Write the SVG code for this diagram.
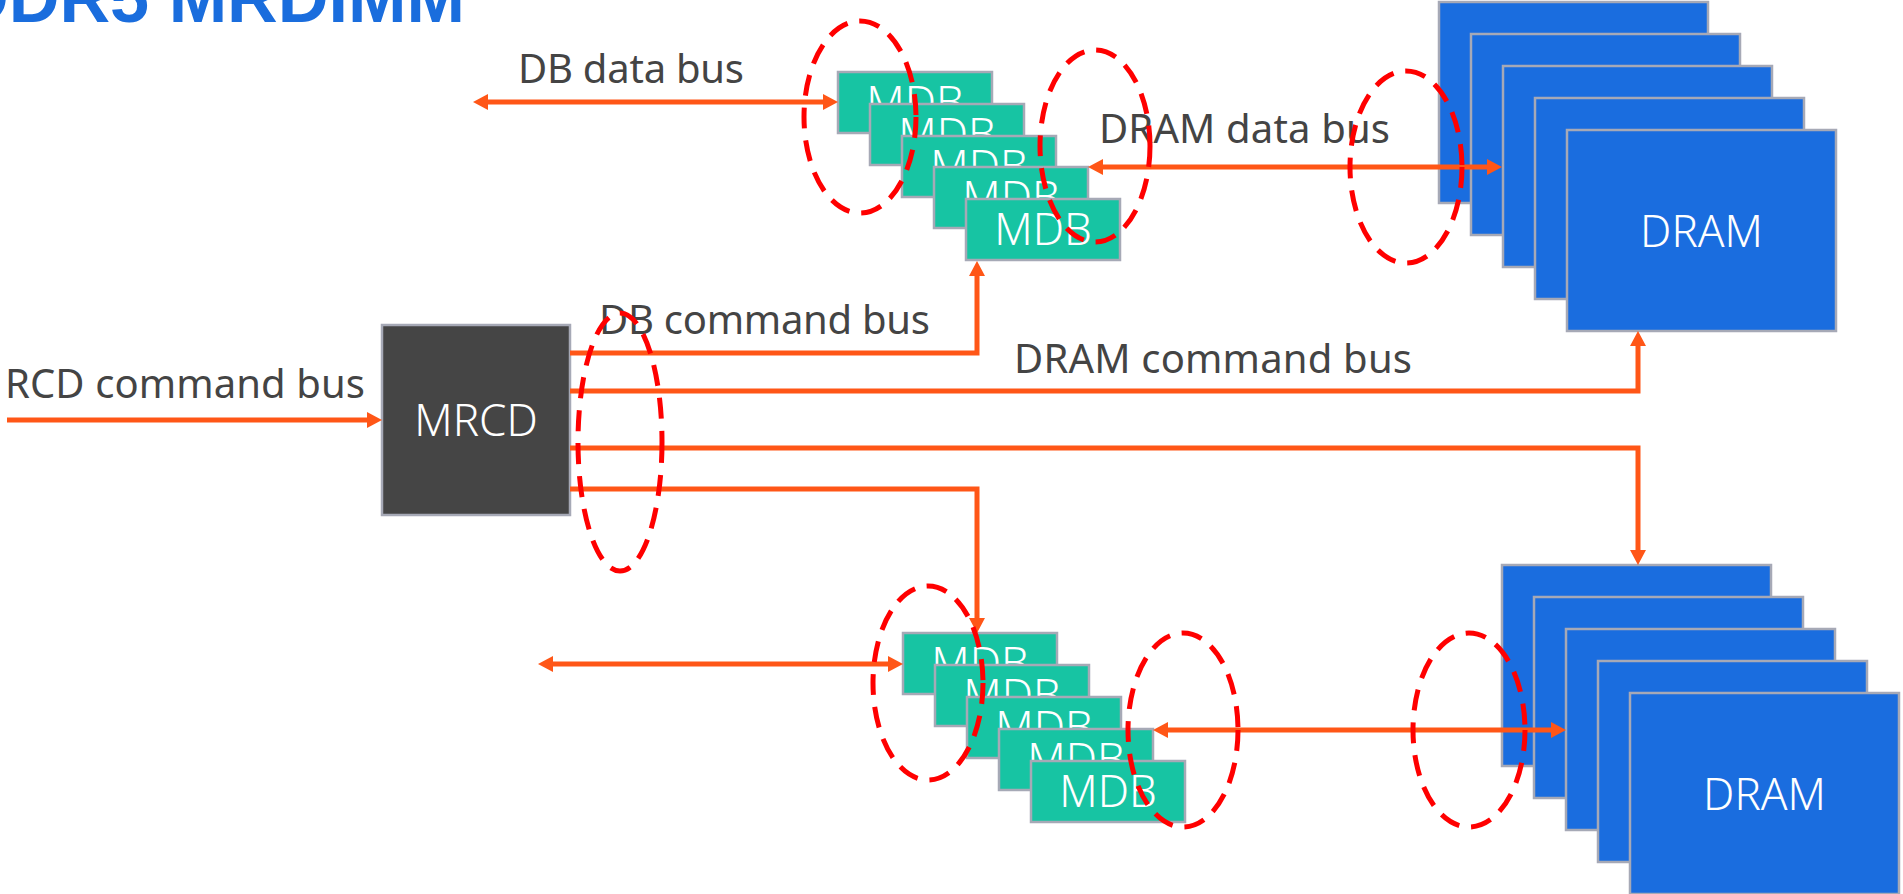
<svg xmlns="http://www.w3.org/2000/svg" width="1903" height="894" viewBox="0 0 1903 894">
<style>
.bg{fill:#ffffff}
.title{font-family:"Liberation Sans",Arial,sans-serif;font-weight:bold;font-size:70px;fill:#1a6ddd}
.lbl{font-family:"Noto Sans","Open Sans",sans-serif;font-size:40px;fill:#444444}
.mdb rect{fill:#17c4a3;stroke:#a6a9b6;stroke-width:2.5}
.dram rect{fill:#1a6ddf;stroke:#a6a9b6;stroke-width:2.5}
.mrcd rect{fill:#454545;stroke:#a6a9b6;stroke-width:2.5}
.bt{font-family:"Noto Sans","Open Sans",sans-serif;font-weight:300;font-size:44px;fill:#ffffff;text-anchor:middle}
.conn{fill:none;stroke:#ff5617;stroke-width:5}
.one{marker-end:url(#ah)}
.two{marker-start:url(#ah);marker-end:url(#ah)}
.grp{fill:none;stroke:#ff0000;stroke-width:5;stroke-dasharray:21 12}
</style>
<defs>
<marker id="ah" markerUnits="userSpaceOnUse" markerWidth="16" markerHeight="16" refX="5" refY="8" orient="auto-start-reverse">
<path d="M0,0 L15,8 L0,16 Z" fill="#ff5617"/>
</marker>
</defs>
<rect class="bg" x="0" y="0" width="1903" height="894"/>
<text class="title" x="-42" y="22" textLength="507" lengthAdjust="spacingAndGlyphs">DDR5 MRDIMM</text>

<g id="labels">
<text class="lbl" x="518" y="83" textLength="226">DB data bus</text>
<text class="lbl" x="1099" y="143" textLength="291">DRAM data bus</text>
<text class="lbl" x="599" y="334" textLength="331">DB command bus</text>
<text class="lbl" x="1014" y="373" textLength="398">DRAM command bus</text>
<text class="lbl" x="5" y="398" textLength="360">RCD command bus</text>
</g>

<g id="mdb-top" class="mdb">
<rect x="838" y="72" width="154" height="61"/><text class="bt" x="915" y="118">MDB</text>
<rect x="870" y="104" width="154" height="61"/><text class="bt" x="947" y="150">MDB</text>
<rect x="902" y="136" width="154" height="61"/><text class="bt" x="979" y="182">MDB</text>
<rect x="934" y="167" width="154" height="61"/><text class="bt" x="1011" y="213">MDB</text>
<rect x="966" y="199" width="154" height="61"/><text class="bt" x="1043" y="245">MDB</text>
</g>

<g id="mdb-bottom" class="mdb">
<rect x="903" y="633" width="154" height="61"/><text class="bt" x="980" y="679">MDB</text>
<rect x="935" y="665" width="154" height="61"/><text class="bt" x="1012" y="711">MDB</text>
<rect x="967" y="697" width="154" height="61"/><text class="bt" x="1044" y="743">MDB</text>
<rect x="999" y="729" width="154" height="61"/><text class="bt" x="1076" y="775">MDB</text>
<rect x="1031" y="761" width="154" height="61"/><text class="bt" x="1108" y="807">MDB</text>
</g>

<g id="dram-top" class="dram">
<rect x="1439" y="2" width="269" height="201"/>
<rect x="1471" y="34" width="269" height="201"/>
<rect x="1503" y="66" width="269" height="201"/>
<rect x="1535" y="98" width="269" height="201"/>
<rect x="1567" y="130" width="269" height="201"/>
<text class="bt" x="1701.5" y="247">DRAM</text>
</g>

<g id="dram-bottom" class="dram">
<rect x="1502" y="565" width="269" height="201"/>
<rect x="1534" y="597" width="269" height="201"/>
<rect x="1566" y="629" width="269" height="201"/>
<rect x="1598" y="661" width="269" height="201"/>
<rect x="1630" y="693" width="269" height="201"/>
<text class="bt" x="1764.5" y="810">DRAM</text>
</g>

<g id="mrcd" class="mrcd">
<rect x="382" y="325" width="188" height="190"/>
<text class="bt" x="476" y="436">MRCD</text>
</g>

<g id="connectors">
<path class="conn one" d="M7,420 H372"/>
<path class="conn one" d="M570,353 H977 V271"/>
<path class="conn one" d="M570,391 H1638 V341"/>
<path class="conn one" d="M570,448 H1638 V555"/>
<path class="conn one" d="M570,489 H977 V623"/>
<path class="conn two" d="M483,102 H828"/>
<path class="conn two" d="M1098,167 H1492"/>
<path class="conn two" d="M548,664 H893"/>
<path class="conn two" d="M1163,730 H1556"/>
</g>

<g id="bus-groups">
<ellipse class="grp" cx="860" cy="117" rx="56" ry="96"/>
<ellipse class="grp" cx="1095" cy="146" rx="55" ry="96"/>
<ellipse class="grp" cx="1406" cy="167" rx="56" ry="96"/>
<ellipse class="grp" cx="620" cy="442" rx="42" ry="129"/>
<ellipse class="grp" cx="928" cy="683" rx="55" ry="97"/>
<ellipse class="grp" cx="1183" cy="730" rx="55" ry="97"/>
<ellipse class="grp" cx="1469" cy="730" rx="56" ry="97"/>
</g>
</svg>
